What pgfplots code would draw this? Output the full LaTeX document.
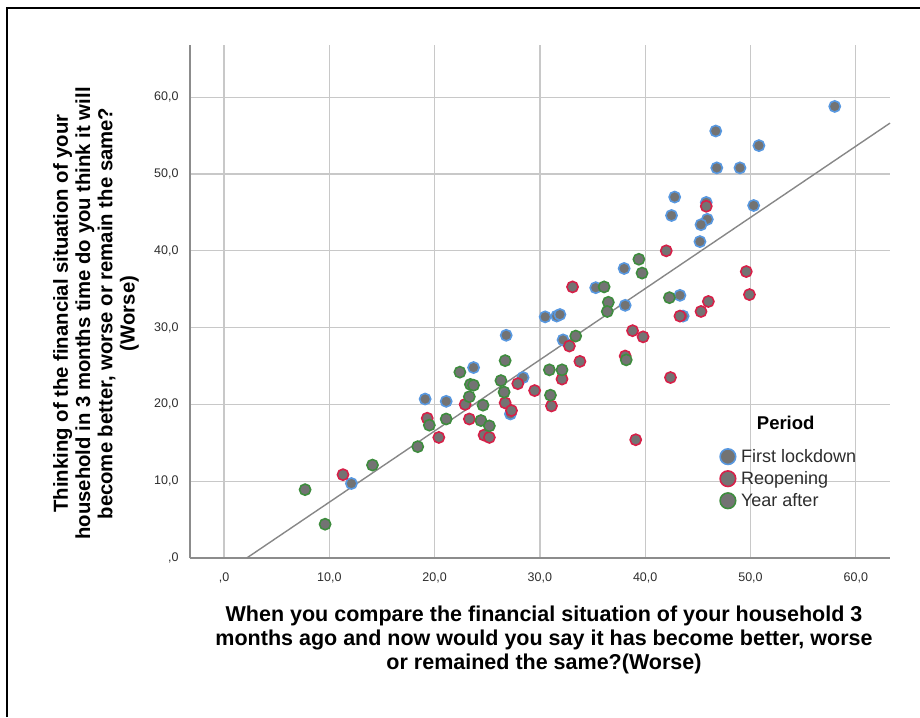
\documentclass[border=0pt]{standalone}
\usepackage{pgfplots}
\pgfplotsset{compat=1.18}
\usepackage{fontspec}
\setmainfont{Liberation Sans}
\definecolor{cblue}{RGB}{88,152,224}
\definecolor{cred}{RGB}{214,32,72}
\definecolor{cgreen}{RGB}{62,140,62}
\definecolor{cfill}{RGB}{115,115,115}
\definecolor{gridc}{RGB}{200,200,200}
\definecolor{axc}{RGB}{140,140,140}
\definecolor{fitc}{RGB}{135,135,135}
\definecolor{tickc}{RGB}{45,45,45}
\begin{document}
\begin{tikzpicture}[x=1pt,y=1pt]
\useasboundingbox (0,0) rectangle (920,717);
\draw[line width=2pt,black] (7,0) -- (7,709) -- (920,709);
\begin{axis}[
  at={(190pt,159pt)}, anchor=south west,
  scale only axis, width=700pt, height=513pt,
  xmin=-3.23, xmax=63.25, ymin=0, ymax=66.8,
  axis lines*=left,
  axis line style={draw=axc, line width=1.5pt},
  grid=major,
  major grid style={draw=gridc, line width=1.3pt},
  major tick length=0pt,
  xtick={0,10,20,30,40,50,60},
  ytick={0,10,20,30,40,50,60},
  xticklabels={{,0},{10,0},{20,0},{30,0},{40,0},{50,0},{60,0}},
  yticklabels={{,0},{10,0},{20,0},{30,0},{40,0},{50,0},{60,0}},
  ticklabel style={font=\fontsize{12.5}{15}\selectfont, text=tickc},
  xticklabel style={yshift=-11pt},
  yticklabel style={xshift=-8pt},
  xlabel={When you compare the financial situation of your household 3\\months ago and now would you say it has become better, worse\\or remained the same?(Worse)},
  xlabel style={at={(axis description cs:0.5,0)}, anchor=north, yshift=-44pt, xshift=4pt, align=center, font=\bfseries\fontsize{21.5}{24}\selectfont},
  ylabel={Thinking of the financial situation of your\\household in 3 months time do you think it will\\become better, worse or remain the same?\\(Worse)},
  ylabel style={at={(axis description cs:0,0.5)}, anchor=center, yshift=94pt, xshift=-12pt, align=center, font=\bfseries\fontsize{20.3}{22.3}\selectfont},
  legend style={draw=none, fill=none, at={(0.757,0.216)}, anchor=north west, font=\fontsize{18}{19}\selectfont, inner sep=0pt, row sep=3.5pt, nodes={inner sep=2pt}, text=tickc},
  legend cell align=left,
  legend image code/.code={\draw[mark repeat=1,mark phase=1,#1,mark size=7.8pt] plot coordinates {(0pt,0pt)}; \path (11pt,0pt);},
  clip=false,
]
\addplot[draw=fitc, line width=1.4pt, forget plot] coordinates {(2.16,0) (63.25,56.63)};
\addplot[only marks, mark=*, mark size=5.6pt, mark options={fill=cfill, draw=cblue, line width=1.6pt}] table {
x y
58.0 58.8
46.7 55.6
50.8 53.7
46.8 50.8
49.0 50.8
42.8 47.0
45.8 46.3
50.3 45.9
42.5 44.6
45.9 44.1
45.3 43.4
45.2 41.2
38.0 37.7
35.3 35.2
38.1 32.9
43.3 34.2
43.6 31.5
30.5 31.4
31.6 31.5
31.9 31.7
32.2 28.4
26.8 29.0
23.7 24.8
28.4 23.5
19.1 20.7
21.1 20.4
27.2 18.75
12.1 9.7
};
\addlegendentry{First lockdown}
\addplot[only marks, mark=*, mark size=5.6pt, mark options={fill=cfill, draw=cred, line width=1.6pt}] table {
x y
45.8 45.8
42.0 40.0
49.6 37.3
49.9 34.3
33.1 35.3
46.0 33.4
45.3 32.1
43.3 31.5
38.8 29.6
39.8 28.8
32.8 27.6
33.8 25.6
38.1 26.3
32.1 23.3
31.1 19.8
42.4 23.5
39.1 15.4
27.9 22.7
29.5 21.8
22.9 20.0
26.7 20.2
27.3 19.2
19.3 18.2
23.3 18.1
24.7 16.0
25.2 15.7
20.4 15.7
11.3 10.85
};
\addlegendentry{Reopening}
\addplot[only marks, mark=*, mark size=5.6pt, mark options={fill=cfill, draw=cgreen, line width=1.6pt}] table {
x y
39.4 38.9
39.7 37.1
36.1 35.3
36.5 33.3
36.4 32.1
42.3 33.9
33.4 28.9
38.2 25.8
30.9 24.5
32.1 24.5
31.0 21.2
26.7 25.7
22.4 24.2
23.4 22.6
23.7 22.5
26.3 23.1
23.3 21.0
26.6 21.6
24.6 19.9
19.5 17.3
21.1 18.1
24.4 17.9
25.2 17.2
18.4 14.5
14.1 12.1
7.7 8.9
9.6 4.4
};
\addlegendentry{Year after}
\node[font=\bfseries\fontsize{18.5}{20}\selectfont] at (rel axis cs:0.851,0.263) {Period};
\end{axis}
\end{tikzpicture}
\end{document}
